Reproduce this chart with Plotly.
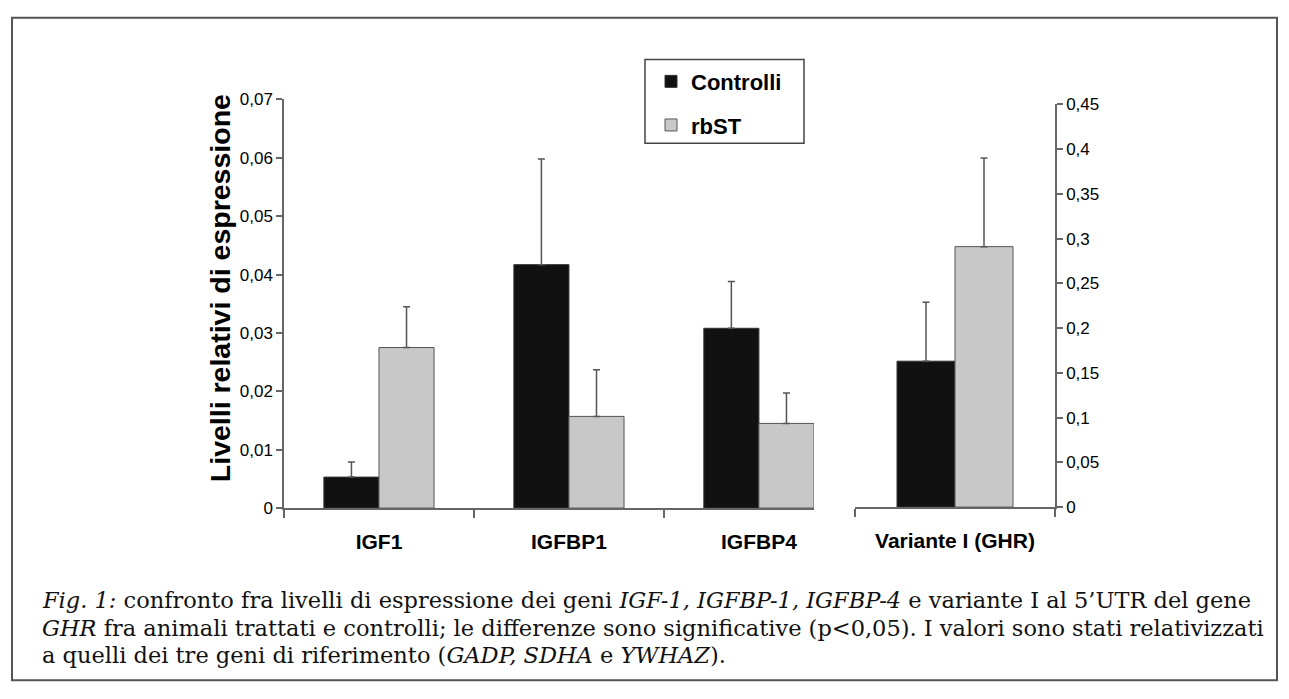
import plotly.graph_objects as go

# ---------------- data ----------------
genes_left = ["IGF1", "IGFBP1", "IGFBP4"]
ctrl_left = [0.0053, 0.0417, 0.0308]
ctrl_left_err = [0.0026, 0.0181, 0.0080]
rbst_left = [0.0275, 0.0157, 0.0145]
rbst_left_err = [0.0070, 0.0080, 0.0052]

genes_right = ["Variante I (GHR)"]
ctrl_right = [0.163]
ctrl_right_err = [0.066]
rbst_right = [0.291]
rbst_right_err = [0.099]

series_names = ["Controlli", "rbST"]
left_ticks = [0, 0.01, 0.02, 0.03, 0.04, 0.05, 0.06, 0.07]
right_ticks = [0, 0.05, 0.1, 0.15, 0.2, 0.25, 0.3, 0.35, 0.4, 0.45]

caption_lines = [
    "<i>Fig. 1:</i> confronto fra livelli di espressione dei geni <i>IGF-1, IGFBP-1, IGFBP-4</i> e variante I al 5\u2019UTR del gene",
    "<i>GHR</i> fra animali trattati e controlli; le differenze sono significative (p<0,05). I valori sono stati relativizzati",
    "a quelli dei tre geni di riferimento (<i>GADP, SDHA</i> e <i>YWHAZ</i>).",
]

# ---------------- layout helpers ----------------
W, H = 1289, 699
def px(x):
    return x / W
def py(y):
    return 1 - y / H

BLACK = "#111111"
GRAY = "#C8C8C8"
AXC = "#666666"
SANS = "Liberation Sans, Arial, sans-serif"

def err(vals):
    return dict(type="data", symmetric=False, array=vals, arrayminus=[0] * len(vals),
                color="#555555", thickness=1.5, width=3.5)

fig = go.Figure()
fig.add_trace(go.Bar(x=genes_left, y=ctrl_left, name=series_names[0], legendgroup="a",
                     marker=dict(color=BLACK, line=dict(color="#333333", width=1)),
                     error_y=err(ctrl_left_err), xaxis="x", yaxis="y"))
fig.add_trace(go.Bar(x=genes_left, y=rbst_left, name=series_names[1], legendgroup="b",
                     marker=dict(color=GRAY, line=dict(color="#555555", width=1)),
                     error_y=err(rbst_left_err), xaxis="x", yaxis="y"))
fig.add_trace(go.Bar(x=genes_right, y=ctrl_right, name=series_names[0], showlegend=False,
                     marker=dict(color=BLACK, line=dict(color="#333333", width=1)),
                     error_y=err(ctrl_right_err), xaxis="x2", yaxis="y2"))
fig.add_trace(go.Bar(x=genes_right, y=rbst_right, name=series_names[1], showlegend=False,
                     marker=dict(color=GRAY, line=dict(color="#555555", width=1)),
                     error_y=err(rbst_right_err), xaxis="x2", yaxis="y2"))

xcommon = dict(type="category", showgrid=False, showline=True, linecolor=AXC, linewidth=1.5,
               ticks="outside", tickson="boundaries", ticklen=8, tickcolor=AXC, tickwidth=1.5,
               tickfont=dict(family=SANS, size=21, color="black", weight="bold"),
               ticklabelstandoff=14, zeroline=False, fixedrange=True)

yfont = dict(family=SANS, size=17, color="black")

fig.update_layout(
    width=W, height=H,
    margin=dict(l=0, r=0, t=0, b=0),
    paper_bgcolor="white", plot_bgcolor="white",
    separators=",.",
    barmode="group", bargap=0.42, bargroupgap=0,
    showlegend=True,
    legend=dict(x=px(651), y=py(53), xanchor="left", yanchor="top",
                bgcolor="rgba(0,0,0,0)", borderwidth=0,
                font=dict(family=SANS, size=22, color="black", weight="bold"),
                traceorder="grouped", tracegroupgap=12),
    xaxis=dict(domain=[px(284), px(814)], range=[-0.5, 2.29], anchor="y", **xcommon),
    xaxis2=dict(domain=[px(855), px(1055)], range=[-0.5, 0.5], anchor="y2", **xcommon),
    yaxis=dict(domain=[py(513), py(93)], range=[0, 0.07], tickvals=left_ticks,
               anchor="x", side="left", showgrid=False, zeroline=False,
               showline=True, linecolor=AXC, linewidth=1.5,
               ticks="outside", ticklen=6, tickcolor=AXC, tickwidth=1.5,
               tickfont=yfont, fixedrange=True),
    yaxis2=dict(domain=[py(512), py(98)], range=[0, 0.45], tickvals=right_ticks,
                anchor="x2", side="right", showgrid=False, zeroline=False,
                showline=True, linecolor=AXC, linewidth=1.5,
                ticks="outside", ticklen=6, tickcolor=AXC, tickwidth=1.5,
                tickfont=yfont, fixedrange=True),
)

# legend frame
fig.add_shape(type="rect", xref="paper", yref="paper",
              x0=px(645), x1=px(804), y0=py(138), y1=py(52),
              line=dict(color="#444444", width=1.5), fillcolor="white", layer="below")

# y-axis title
fig.add_annotation(text="<b>Livelli relativi di espressione</b>", textangle=-90,
                   x=px(220), y=py(287), xref="paper", yref="paper",
                   xanchor="center", yanchor="middle",
                   showarrow=False, font=dict(family=SANS, size=28.5, color="black"))

# caption
cap_y = [608, 636, 664]
for line, yy in zip(caption_lines, cap_y):
    fig.add_annotation(text=line, x=px(40), y=py(yy), xref="paper", yref="paper",
                       xanchor="left", yanchor="middle", align="left", showarrow=False,
                       font=dict(family="DejaVu Serif, serif", size=22.5, color="#111111"))

# outer frame
fig.add_shape(type="rect", xref="paper", yref="paper",
              x0=px(12), x1=px(1277), y0=py(690), y1=py(9),
              line=dict(color="#555555", width=2), fillcolor="rgba(0,0,0,0)", layer="above")

fig.write_html("out.html", config={"displayModeBar": False},
               post_script="document.body.style.margin='0px';document.body.style.overflow='hidden';")
